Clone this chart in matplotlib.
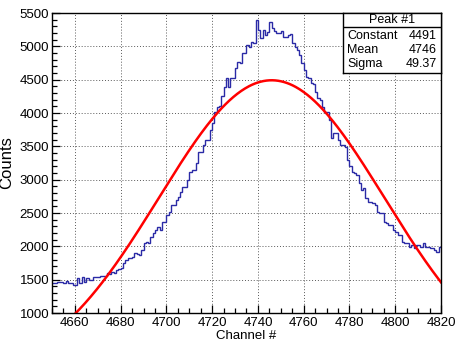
import numpy as np
import matplotlib.pyplot as plt
from matplotlib.ticker import MultipleLocator

plt.rcParams['font.family'] = ['Liberation Sans', 'DejaVu Sans']

# channel histogram, one bin per channel starting at 4650
first_channel = 4650
counts = [
    1445, 1450, 1465, 1460, 1460, 1455, 1480, 1450, 1445, 1420,
    1415, 1520, 1445, 1545, 1465, 1520, 1495, 1500, 1545, 1545,
    1545, 1550, 1555, 1555, 1600, 1585, 1620, 1600, 1650, 1660,
    1675, 1750, 1795, 1825, 1820, 1840, 1900, 1880, 1870, 1945,
    2050, 2065, 2050, 2140, 2200, 2245, 2290, 2245, 2365, 2370,
    2470, 2515, 2620, 2620, 2695, 2740, 2815, 2890, 2890, 2995,
    3115, 3145, 3150, 3250, 3415, 3420, 3520, 3595, 3600, 3745,
    3850, 4015, 4090, 4100, 4250, 4390, 4525, 4390, 4525, 4530,
    4675, 4765, 4750, 4900, 4905, 5020, 4990, 5065, 5050, 5395,
    5245, 5125, 5245, 5170, 5215, 5365, 5275, 5230, 5200, 5200,
    5230, 5140, 5140, 5170, 5185, 5050, 4995, 4945, 4870, 4750,
    4645, 4540, 4525, 4450, 4440, 4315, 4225, 4200, 4090, 4015,
    4015, 3895, 3625, 3700, 3700, 3595, 3520, 3520, 3490, 3300,
    3200, 3115, 3100, 3070, 2950, 2845, 2875, 2725, 2665, 2665,
    2650, 2620, 2515, 2500, 2500, 2365, 2350, 2320, 2320, 2245,
    2215, 2170, 2170, 2065, 2050, 2050, 1990, 2020, 1975, 2020,
    2020, 1990, 2050, 1990, 1990, 1975, 1975, 1945, 1915, 1990,
]

# gaussian fit results
fit_constant = 4491
fit_mean = 4746
fit_sigma = 49.37

edges = first_channel + np.arange(len(counts) + 1)

fig = plt.figure(figsize=(4.59, 3.43), dpi=100)
ax = fig.add_axes([52 / 459, 30 / 343, 389 / 459, 300 / 343])

ax.stairs(counts, edges, color='#2a2aa6', lw=1.0, baseline=None)

xf = np.linspace(4650, 4820, 400)
yf = fit_constant * np.exp(-0.5 * ((xf - fit_mean) / fit_sigma) ** 2)
ax.plot(xf, yf, color='#ff0000', lw=1.8)

ax.set_xlim(4650, 4820)
ax.set_ylim(1000, 5500)
ax.xaxis.set_major_locator(MultipleLocator(20))
ax.xaxis.set_minor_locator(MultipleLocator(5))
ax.yaxis.set_major_locator(MultipleLocator(500))
ax.yaxis.set_minor_locator(MultipleLocator(100))
ax.tick_params(which='both', direction='in', top=False, right=False,
               labelsize=9.5, width=0.9)
ax.tick_params(which='major', length=6)
ax.tick_params(which='minor', length=3.5)
ax.tick_params(axis='y', pad=2)
ax.tick_params(axis='x', pad=3)
ax.grid(True, which='major', color='0.35', ls=(0, (1, 2)), lw=0.7)
ax.set_axisbelow(True)
for s in ax.spines.values():
    s.set_linewidth(1.0)

ax.set_xlabel('Channel #', fontsize=9.5)
ax.xaxis.set_label_coords(0.5, -0.057)
ax.set_ylabel('Counts', fontsize=12, labelpad=4)

# statistics box
box = ax.inset_axes([291 / 389, 240 / 300, 98 / 389, 60 / 300])
box.set_xticks([])
box.set_yticks([])
box.set_xlim(0, 1)
box.set_ylim(0, 1)
box.set_zorder(5)
for s in box.spines.values():
    s.set_linewidth(1.0)
box.axhline(46 / 60, color='black', lw=1.0)
box.text(0.5, 53 / 60, 'Peak #1', ha='center', va='center', fontsize=9)
rows = [('Constant', '%d' % fit_constant),
        ('Mean', '%d' % fit_mean),
        ('Sigma', '%.2f' % fit_sigma)]
for i, (name, val) in enumerate(rows):
    yy = (37 - 14 * i) / 60
    box.text(0.04, yy, name, ha='left', va='center', fontsize=9)
    box.text(0.96, yy, val, ha='right', va='center', fontsize=9)

fig.savefig('out.png', dpi=100)
